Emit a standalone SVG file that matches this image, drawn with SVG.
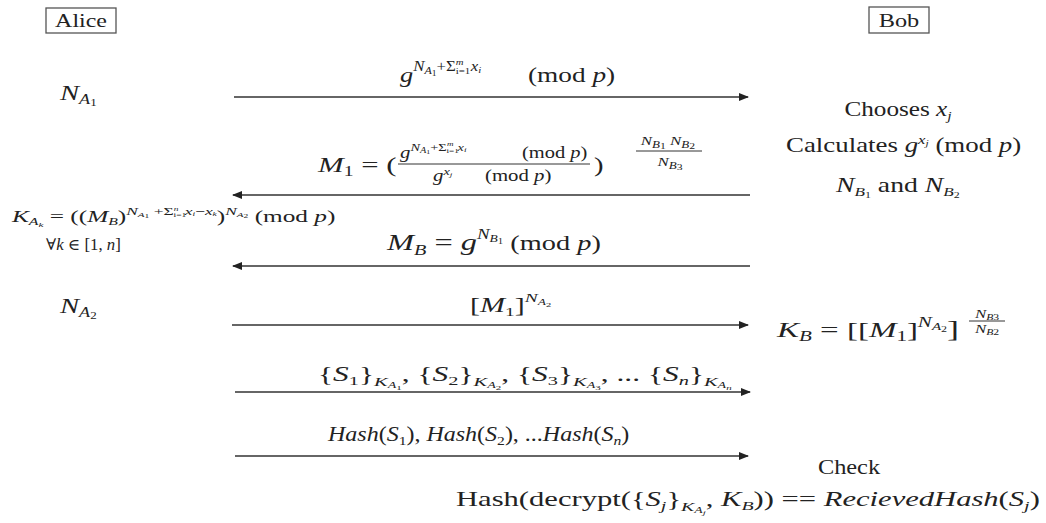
<svg xmlns="http://www.w3.org/2000/svg" width="1046" height="523" viewBox="0 0 1046 523">
<style>
text { font-family: "Liberation Serif", "DejaVu Serif", serif; fill: #222; }
.i { font-style: italic; }
.box { fill: #fff; stroke: #555; stroke-width: 1.3; }
.msg { stroke: #333; stroke-width: 1.6; fill: none; }
.bar { stroke: #333; stroke-width: 1; }
</style>
<defs>
<marker id="ah" viewBox="0 0 10 8" refX="9" refY="4" markerWidth="10" markerHeight="8" markerUnits="userSpaceOnUse" orient="auto">
<path d="M0,0 L10,4 L0,8 z" fill="#222"/>
</marker>
</defs>
<rect width="1046" height="523" fill="#fff"/>

<g id="alice">
<rect class="box" x="46" y="8" width="70" height="25"/>
<text transform="translate(81,27) scale(1.33,1)" font-size="18" text-anchor="middle">Alice</text>
</g>
<g id="bob">
<rect class="box" x="869" y="7" width="60" height="26"/>
<text transform="translate(899,27) scale(1.35,1)" font-size="18" text-anchor="middle">Bob</text>
</g>

<g id="alice-notes">
<text transform="translate(60,100) scale(1.3,1)" font-size="22"><tspan class="i">N</tspan><tspan class="i" font-size="14" dy="4">A</tspan><tspan font-size="10" dy="2">1</tspan></text>
<text transform="translate(12,222) scale(1.58,1)" font-size="16"><tspan class="i">K</tspan><tspan class="i" font-size="10" dy="3">A</tspan><tspan class="i" font-size="7" dy="2">k</tspan><tspan dy="-5"> = ((</tspan><tspan class="i">M</tspan><tspan class="i" font-size="10" dy="3">B</tspan><tspan dy="-3">)</tspan><tspan class="i" font-size="11" dy="-7">N</tspan><tspan class="i" font-size="7" dy="2">A</tspan><tspan font-size="6" dy="1">1</tspan><tspan font-size="11" dy="-3"> +Σ</tspan><tspan font-size="6" dy="2">i=1</tspan><tspan class="i" font-size="6" dy="-6" dx="-8">n</tspan><tspan class="i" font-size="11" dy="4" dx="4">x</tspan><tspan class="i" font-size="6" dy="1">i</tspan><tspan font-size="11" dy="-1">−</tspan><tspan class="i" font-size="11">x</tspan><tspan class="i" font-size="6" dy="1">k</tspan><tspan dy="6">)</tspan><tspan class="i" font-size="11" dy="-7">N</tspan><tspan class="i" font-size="7" dy="2">A</tspan><tspan font-size="6" dy="1">2</tspan><tspan dy="4"> (mod </tspan><tspan class="i">p</tspan><tspan>)</tspan></text>
<text transform="translate(46,250) scale(1.05,1)" font-size="16">∀<tspan class="i">k</tspan> ∈ [1, <tspan class="i">n</tspan>]</text>
<text transform="translate(60,313) scale(1.3,1)" font-size="22"><tspan class="i">N</tspan><tspan class="i" font-size="14" dy="4">A</tspan><tspan font-size="10" dy="2">2</tspan></text>
</g>

<g id="bob-notes">
<text transform="translate(898,116) scale(1.2,1)" font-size="21" text-anchor="middle">Chooses <tspan class="i">x</tspan><tspan class="i" font-size="13" dy="4">j</tspan></text>
<text transform="translate(786,152) scale(1.28,1)" font-size="21">Calculates <tspan class="i">g</tspan><tspan class="i" font-size="13" dy="-8">x</tspan><tspan class="i" font-size="9" dy="2">j</tspan><tspan dy="6"> (mod </tspan><tspan class="i">p</tspan>)</text>
<text transform="translate(836,192) scale(1.32,1)" font-size="21"><tspan class="i">N</tspan><tspan class="i" font-size="13" dy="4">B</tspan><tspan font-size="9" dy="2">1</tspan><tspan dy="-6"> and </tspan><tspan class="i">N</tspan><tspan class="i" font-size="13" dy="4">B</tspan><tspan font-size="9" dy="2">2</tspan></text>
<text transform="translate(777,337) scale(1.5,1)" font-size="22"><tspan class="i">K</tspan><tspan class="i" font-size="14" dy="4">B</tspan><tspan dy="-4"> =  [[</tspan><tspan class="i">M</tspan><tspan font-size="14" dy="4">1</tspan><tspan dy="-4">]</tspan><tspan class="i" font-size="14" dy="-10">N</tspan><tspan class="i" font-size="10" dy="3">A</tspan><tspan font-size="8" dy="2">2</tspan><tspan font-size="24" dy="5">]</tspan></text>
<text transform="translate(987,318) scale(1.3,1)" font-size="13" text-anchor="middle"><tspan class="i">N</tspan><tspan class="i" font-size="9" dy="2">B</tspan><tspan font-size="9">3</tspan></text>
<line class="bar" x1="969" y1="321" x2="1005" y2="321"/>
<text transform="translate(987,333) scale(1.3,1)" font-size="13" text-anchor="middle"><tspan class="i">N</tspan><tspan class="i" font-size="9" dy="2">B</tspan><tspan font-size="9">2</tspan></text>
<text transform="translate(849,474) scale(1.16,1)" font-size="21" text-anchor="middle">Check</text>
<text transform="translate(456,506) scale(1.53,1)" font-size="20">Hash(decrypt({<tspan class="i">S</tspan><tspan class="i" font-size="13" dy="4">j</tspan><tspan dy="-4">}</tspan><tspan class="i" font-size="13" dy="5">K</tspan><tspan class="i" font-size="9" dy="2">A</tspan><tspan class="i" font-size="7" dy="2">j</tspan><tspan dy="-9">, </tspan><tspan class="i">K</tspan><tspan class="i" font-size="13" dy="4">B</tspan><tspan dy="-4">)) == </tspan><tspan class="i">RecievedHash</tspan>(<tspan class="i">S</tspan><tspan class="i" font-size="13" dy="4">j</tspan><tspan dy="-4">)</tspan></text>
</g>

<g id="connectors">
<line class="msg" x1="234" y1="97" x2="748" y2="97" marker-end="url(#ah)"/>
<line class="msg" x1="750" y1="195" x2="233" y2="195" marker-end="url(#ah)"/>
<line class="msg" x1="750" y1="266" x2="233" y2="266" marker-end="url(#ah)"/>
<line class="msg" x1="232" y1="325" x2="748" y2="325" marker-end="url(#ah)"/>
<line class="msg" x1="235" y1="392" x2="750" y2="392" marker-end="url(#ah)"/>
<line class="msg" x1="235" y1="456" x2="748" y2="456" marker-end="url(#ah)"/>
</g>

<g id="labels">
<text transform="translate(400,82) scale(1.2,1)" font-size="22"><tspan class="i">g</tspan><tspan class="i" font-size="14" dy="-11">N</tspan><tspan class="i" font-size="10" dy="3">A</tspan><tspan font-size="8" dy="2">1</tspan><tspan font-size="14" dy="-5">+Σ</tspan><tspan font-size="9" dy="3">i=1</tspan><tspan class="i" font-size="9" dy="-9" dx="-12">m</tspan><tspan class="i" font-size="14" dy="6" dx="6">x</tspan><tspan class="i" font-size="9" dy="2">i</tspan></text>
<text transform="translate(528,82) scale(1.3,1)" font-size="21">(mod <tspan class="i">p</tspan>)</text>

<text transform="translate(318,172) scale(1.4,1)" font-size="22"><tspan class="i">M</tspan><tspan font-size="14" dy="4">1</tspan><tspan dy="-4"> = (</tspan></text>
<text transform="translate(400,158) scale(1.3,1)" font-size="16"><tspan class="i">g</tspan><tspan class="i" font-size="11" dy="-7">N</tspan><tspan class="i" font-size="8" dy="2">A</tspan><tspan font-size="6" dy="1">1</tspan><tspan font-size="11" dy="-3">+Σ</tspan><tspan font-size="7" dy="2">i=1</tspan><tspan class="i" font-size="7" dy="-7" dx="-9">m</tspan><tspan class="i" font-size="11" dy="5" dx="3">x</tspan><tspan class="i" font-size="7" dy="1">i</tspan></text>
<text transform="translate(522,158) scale(1.28,1)" font-size="16">(mod <tspan class="i">p</tspan>)</text>
<line class="bar" x1="398" y1="164" x2="590" y2="164"/>
<text transform="translate(433,181) scale(1.3,1)" font-size="16"><tspan class="i">g</tspan><tspan class="i" font-size="11" dy="-6">x</tspan><tspan class="i" font-size="7" dy="2">j</tspan></text>
<text transform="translate(485,181) scale(1.3,1)" font-size="16">(mod <tspan class="i">p</tspan>)</text>
<text transform="translate(594,172) scale(1.3,1)" font-size="22">)</text>
<text transform="translate(668,145) scale(1.3,1)" font-size="13" text-anchor="middle"><tspan class="i">N</tspan><tspan class="i" font-size="10" dy="3">B</tspan><tspan font-size="9" dy="1">1</tspan><tspan dy="-4"> </tspan><tspan class="i">N</tspan><tspan class="i" font-size="10" dy="3">B</tspan><tspan font-size="9" dy="1">2</tspan></text>
<line class="bar" x1="636" y1="151" x2="702" y2="151"/>
<text transform="translate(670,166) scale(1.3,1)" font-size="13" text-anchor="middle"><tspan class="i">N</tspan><tspan class="i" font-size="10" dy="3">B</tspan><tspan font-size="9" dy="1">3</tspan></text>

<text transform="translate(387,250) scale(1.35,1)" font-size="24"><tspan class="i">M</tspan><tspan class="i" font-size="15" dy="5">B</tspan><tspan dy="-5"> = </tspan><tspan class="i">g</tspan><tspan class="i" font-size="14" dy="-11">N</tspan><tspan class="i" font-size="10" dy="3">B</tspan><tspan font-size="8" dy="2">1</tspan><tspan font-size="21" dy="6">  (mod </tspan><tspan class="i" font-size="21">p</tspan><tspan font-size="21">)</tspan></text>

<text transform="translate(470,312) scale(1.5,1)" font-size="20">[<tspan class="i">M</tspan><tspan font-size="13" dy="4">1</tspan><tspan dy="-4">]</tspan><tspan class="i" font-size="13" dy="-10">N</tspan><tspan class="i" font-size="9" dy="3">A</tspan><tspan font-size="7" dy="2">2</tspan></text>

<text transform="translate(318,381) scale(1.57,1)" font-size="20">{<tspan class="i">S</tspan><tspan font-size="13" dy="4">1</tspan><tspan dy="-4">}</tspan><tspan class="i" font-size="13" dy="5">K</tspan><tspan class="i" font-size="9" dy="2">A</tspan><tspan font-size="7" dy="2">1</tspan><tspan dy="-9">, {</tspan><tspan class="i">S</tspan><tspan font-size="13" dy="4">2</tspan><tspan dy="-4">}</tspan><tspan class="i" font-size="13" dy="5">K</tspan><tspan class="i" font-size="9" dy="2">A</tspan><tspan font-size="7" dy="2">2</tspan><tspan dy="-9">, {</tspan><tspan class="i">S</tspan><tspan font-size="13" dy="4">3</tspan><tspan dy="-4">}</tspan><tspan class="i" font-size="13" dy="5">K</tspan><tspan class="i" font-size="9" dy="2">A</tspan><tspan font-size="7" dy="2">3</tspan><tspan dy="-9">, ... {</tspan><tspan class="i">S</tspan><tspan class="i" font-size="13" dy="4">n</tspan><tspan dy="-4">}</tspan><tspan class="i" font-size="13" dy="5">K</tspan><tspan class="i" font-size="9" dy="2">A</tspan><tspan class="i" font-size="7" dy="2">n</tspan></text>

<text transform="translate(328,441) scale(1.2,1)" font-size="20"><tspan class="i">Hash</tspan>(<tspan class="i">S</tspan><tspan font-size="13" dy="4">1</tspan><tspan dy="-4">), </tspan><tspan class="i">Hash</tspan>(<tspan class="i">S</tspan><tspan font-size="13" dy="4">2</tspan><tspan dy="-4">), ...</tspan><tspan class="i">Hash</tspan>(<tspan class="i">S</tspan><tspan class="i" font-size="13" dy="4">n</tspan><tspan dy="-4">)</tspan></text>
</g>
</svg>
